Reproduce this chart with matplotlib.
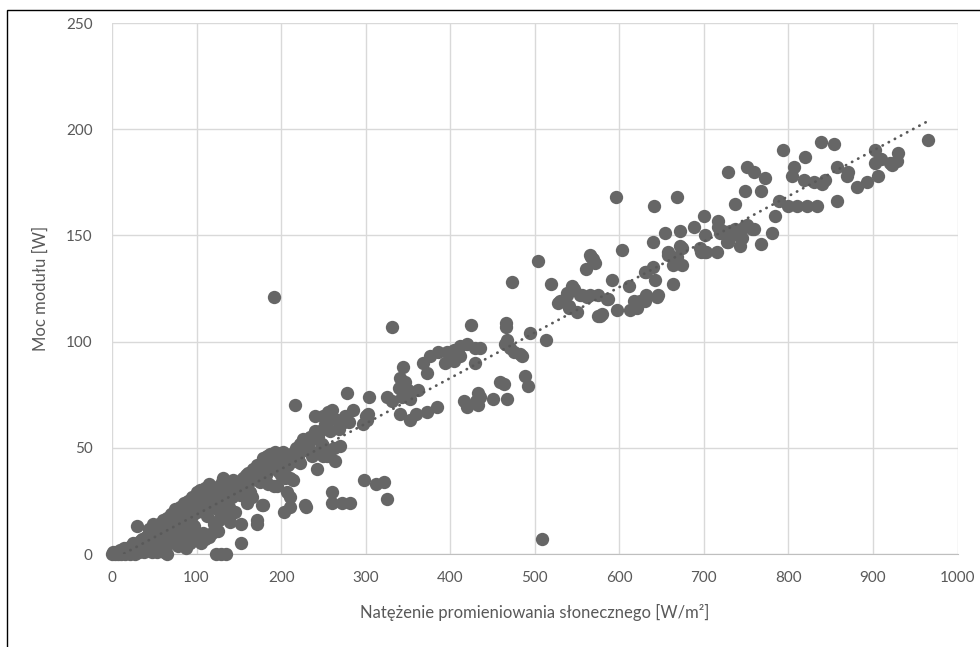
import numpy as np
import matplotlib.pyplot as plt
from matplotlib.patches import Rectangle

# irradiance [W/m2] and module power [W]
irr_low = [0, 1, 3, 5, 7, 9, 11, 13, 15, 17, 19, 21, 23, 25, 27, 29, 30, 32, 34, 36, 38, 41, 44, 47, 50, 53, 57, 61, 65]
pow_low = [0, 1, 0, 1, 0, 1, 0, 1, 0, 2, 1, 0, 2, 1, 0, 13, 2, 1, 3, 2, 1, 3, 2, 1, 3, 1, 2, 1, 0]

irr_b = [10, 14, 18, 22, 25, 30, 33, 36, 38, 40, 43, 45, 47, 50, 52, 55, 57, 60, 62, 64, 66, 68, 70, 72, 74, 76, 78, 80,
         82, 84, 86, 88, 90, 92, 93, 95, 97, 99, 100, 102, 104, 106, 108, 108, 110, 112, 113, 115, 117, 118, 120, 121,
         123, 124, 125, 126, 127, 128, 129, 130, 131, 132, 134, 136, 137, 138, 140, 142, 143, 145, 147, 150, 151,
         123, 129, 135, 153, 153, 171, 172, 177, 179, 203, 210, 207, 210, 195, 191,
         44, 48, 55, 60, 65, 70, 75, 80, 85, 90, 95, 100, 104, 110, 115, 58, 63, 68, 73, 78, 83, 88, 96, 105,
         110, 118, 140, 145, 135, 160, 165, 185, 200]
pow_b = [2, 3, 3, 4, 5, 4, 6, 7, 5, 8, 9, 6, 10, 11, 8, 12, 9, 13, 10, 14, 7, 15, 11, 16, 13, 18, 9, 17,
         14, 19, 11, 20, 16, 5, 22, 18, 13, 23, 20, 9, 26, 21, 29, 10, 24, 18, 27, 8, 22, 30, 25, 14,
         28, 21, 11, 32, 16, 17, 26, 34, 36, 23, 29, 19, 31, 22, 34, 27, 35, 30, 33, 34, 28,
         0, 0, 0, 14, 5, 14, 16, 23, 23, 20, 22, 29, 27, 32, 32,
         12, 14, 14, 16, 17, 19, 21, 22, 24, 25, 27, 29, 30, 31, 33, 4, 6, 5, 7, 4, 6, 3, 8, 5,
         7, 10, 15, 20, 25, 24, 27, 33, 37]

irr_c = [155, 157, 159, 160, 161, 163, 165, 167, 169, 171, 173, 175, 178, 179, 180, 182, 183, 185, 187, 189, 191, 193,
         195, 196, 198, 200, 202, 203, 204, 206, 208, 210, 212, 214, 215, 217, 218, 220, 222, 222, 224, 226, 228, 230,
         230, 232, 234, 236, 238, 240, 240, 242, 242, 244, 246, 248, 250, 250, 252, 254, 254, 256, 258, 260, 262, 264,
         266, 268, 270, 272, 274, 276, 278, 280, 285, 260, 250, 192,
         260, 260, 272, 282, 298, 312, 322, 325]
pow_c = [36, 31, 37, 33, 38, 29, 35, 40, 37, 42, 39, 34, 43, 45, 40, 37, 46, 42, 47, 44, 41, 48,
         45, 39, 47, 43, 48, 40, 36, 46, 42, 36, 47, 35, 44, 70, 50, 45, 52, 43, 50, 54, 23, 22,
         49, 51, 55, 46, 54, 58, 65, 40, 48, 55, 58, 52, 46, 51, 61, 60, 46, 67, 58, 64, 50, 44,
         63, 59, 51, 62, 62, 65, 76, 62, 68, 68, 65, 121,
         29, 24, 24, 24, 35, 33, 34, 26]

irr_e = [297, 301, 303, 304, 300, 325, 331, 331, 339, 341, 344, 343, 347, 350, 353, 362, 341, 353, 360, 372, 384, 368,
         372, 376, 386, 394, 396, 404, 404, 412, 412, 420, 425, 429, 429, 416, 420, 431, 433, 433, 435, 451, 459, 435,
         463, 467]
pow_e = [61, 63, 66, 74, 65, 74, 72, 107, 78, 83, 88, 74, 81, 77, 73, 77, 66, 63, 66, 67, 69, 90,
         85, 93, 95, 90, 95, 96, 91, 98, 93, 99, 108, 97, 90, 72, 69, 72, 76, 70, 74, 73, 81, 97,
         80, 73]

irr_f = [466, 466, 467, 465, 471, 473, 475, 483, 485, 488, 492, 494, 513, 504, 509, 519, 528, 530, 538, 538, 540, 540,
         544, 546, 550, 554, 556, 561, 562, 565, 565, 567, 569, 571, 575, 575, 577, 579, 585, 587, 591, 596, 597, 603,
         612, 613, 617, 621, 625, 630, 630, 632, 632, 640, 640, 641, 642, 644, 646]
pow_f = [109, 107, 101, 99, 97, 128, 95, 94, 93, 84, 79, 104, 101, 138, 7, 127, 118, 119, 122, 123, 116, 117,
         126, 125, 114, 122, 122, 134, 121, 122, 141, 140, 139, 137, 112, 122, 112, 113, 120, 120, 129, 168, 115, 143,
         126, 115, 119, 116, 119, 119, 133, 122, 133, 135, 147, 164, 129, 121, 122]

irr_g = [654, 658, 658, 664, 664, 668, 668, 672, 672, 674, 674, 688, 695, 697, 700, 701, 701, 703, 715, 717, 717, 719,
         723, 727, 729, 729, 731, 737, 737, 739, 743, 743, 745, 747, 749, 751, 751, 757, 759, 759, 768, 768, 772, 780,
         784, 789]
pow_g = [151, 142, 141, 136, 127, 140, 168, 152, 145, 136, 144, 154, 144, 142, 159, 150, 142, 142, 142, 157, 154, 151,
         152, 147, 180, 147, 152, 165, 153, 150, 145, 152, 149, 154, 171, 182, 155, 153, 180, 153, 146, 171, 177, 151,
         159, 166]

irr_h = [793, 800, 804, 807, 810, 818, 820, 822, 830, 834, 839, 843, 840, 854, 857, 857, 869, 870, 881, 893, 902, 902,
         906, 908, 910, 920, 922, 928, 930, 965]
pow_h = [190, 164, 178, 182, 164, 176, 187, 164, 175, 164, 194, 176, 174, 193, 182, 166, 178, 180, 173, 175, 190, 184,
         178, 186, 186, 184, 183, 185, 189, 195]

irr = np.array(irr_low + irr_b + irr_c + irr_e + irr_f + irr_g + irr_h, dtype=float)
pw = np.array(pow_low + pow_b + pow_c + pow_e + pow_f + pow_g + pow_h, dtype=float)

plt.rcParams['font.family'] = ['Lato', 'DejaVu Sans']
txt = '#595959'

fig = plt.figure(figsize=(9.8, 6.47), dpi=100)
ax = fig.add_axes([0.1143, 0.1437, 0.8628, 0.8207])

ax.scatter(irr, pw, s=92, color='#666666', linewidths=0, zorder=3, clip_on=False)

# linear trendline (like excel)
a, b = np.polyfit(irr, pw, 1)
tx = np.array([irr.min(), irr.max()])
ax.plot(tx, a * tx + b, color='#595959', lw=2, linestyle=(0, (0.1, 2.4)),
        dash_capstyle='round', zorder=4)

ax.set_xlim(0, 1000)
ax.set_ylim(0, 250)
ax.set_xticks(np.arange(0, 1001, 100))
ax.set_yticks(np.arange(0, 251, 50))
ax.grid(True, color='#d9d9d9', lw=1)
ax.set_axisbelow(True)
for s in ['left', 'right', 'top']:
    ax.spines[s].set_visible(False)
ax.spines['bottom'].set_color('#bfbfbf')
ax.tick_params(length=0, labelsize=11, labelcolor=txt)
ax.tick_params(axis='y', pad=14)
ax.tick_params(axis='x', pad=12)

ax.set_xlabel('Natężenie promieniowania słonecznego [W/m²]', fontsize=12, color=txt, labelpad=14)
ax.set_ylabel('Moc modułu [W]', fontsize=12, color=txt, labelpad=12)

fig.add_artist(Rectangle((0.0071, -0.1), 1.2, 1.0845, transform=fig.transFigure,
                         fill=False, ec='black', lw=1))

fig.savefig('out.png', dpi=100)
